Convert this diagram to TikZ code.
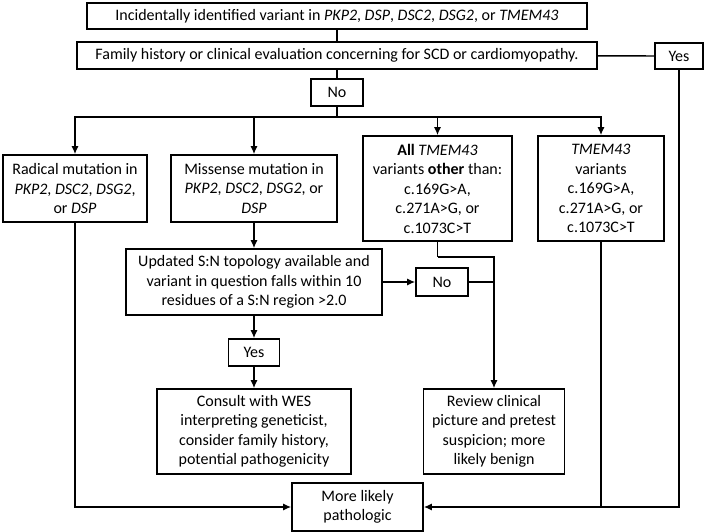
\documentclass[tikz,border=0pt]{standalone}
\usepackage{fontspec}
\setmainfont{Carlito}
\usetikzlibrary{arrows.meta}

\begin{document}
\begin{tikzpicture}[%
        x=1pt, y=-1pt,
        line width=1.4pt,
        box/.style={draw, line width=1.6pt, align=center, inner sep=0pt,
            font=\fontsize{16}{19.5}\selectfont},
        >={Latex[length=8pt,width=7pt]} % Pfeilspitzen
        ]
    \useasboundingbox (0,0) rectangle (709,532);

    % Kaesten
    \node[box, minimum width=500pt, minimum height=26pt] (inc) at (337,16)
        {Incidentally identified variant in \textit{PKP2}, \textit{DSP}, \textit{DSC2}, \textit{DSG2}, or \textit{TMEM43}};
    \node[box, minimum width=520pt, minimum height=27pt] (fam) at (337,55.5)
        {Family history or clinical evaluation concerning for SCD or cardiomyopathy.};
    \node[box, minimum width=48pt, minimum height=26pt] (yesA) at (679,56) {Yes};
    \node[box, minimum width=52pt, minimum height=27pt] (noA) at (337,92.5) {No};

    \node[box, minimum width=144pt, minimum height=67pt] (rad) at (75,188.5)
        {Radical mutation in\\ \textit{PKP2}, \textit{DSC2}, \textit{DSG2},\\ or \textit{DSP}};
    \node[box, minimum width=166pt, minimum height=67pt] (mis) at (254,188.5)
        {Missense mutation in\\ \textit{PKP2}, \textit{DSC2}, \textit{DSG2}, or\\ \textit{DSP}};
    \node[box, minimum width=149pt, minimum height=105pt] (all) at (437.5,188.5)
        {\textbf{All} \textit{TMEM43}\\ variants \textbf{other} than:\\ c.169G>A,\\ c.271A>G, or\\ c.1073C>T};
    \node[box, minimum width=126pt, minimum height=105pt] (tm) at (601,188.5)
        {\textit{TMEM43}\\ variants\\ c.169G>A,\\ c.271A>G, or\\ c.1073C>T};

    \node[box, minimum width=256pt, minimum height=66pt] (upd) at (254,282)
        {Updated S:N topology available and\\ variant in question falls within 10\\ residues of a S:N region >2.0};
    \node[box, minimum width=52pt, minimum height=28pt] (noB) at (442,282) {No};
    \node[box, minimum width=51pt, minimum height=27pt] (yesB) at (254,352.5) {Yes};

    \node[box, minimum width=194pt, minimum height=85pt] (con) at (254,431.5)
        {Consult with WES\\ interpreting geneticist,\\ consider family history,\\ potential pathogenicity};
    \node[box, minimum width=141pt, minimum height=85pt] (rev) at (494,431.5)
        {Review clinical\\ picture and pretest\\ suspicion; more\\ likely benign};
    \node[box, minimum width=131pt, minimum height=48pt] (more) at (357.5,507)
        {More likely\\ pathologic};

    % Verbindungen
    \coordinate (br) at (337,117);
    \draw (inc) -- (fam);
    \draw (fam) -- (yesA);
    \draw (fam) -- (noA);
    \draw (noA) -- (br);
    \draw[->] (br) -| (rad);
    \draw[->] (br) -| (mis);
    \draw[->] (br) -| (all);
    \draw[->] (br) -| (tm);

    \draw[->] (mis) -- (upd);
    \draw[->] (upd) -- (noB);
    \draw[->] (upd) -- (yesB);
    \draw[->] (yesB) -- (con);

    \coordinate (knick) at ([yshift=-15pt]all.south);
    \draw (all) -- (knick);
    \draw[->] (knick) -| (rev);
    \draw (noB) -- (noB -| rev);

    \draw[->] (rad) |- (more);
    \draw (tm) -- (tm |- more);
    \draw[->] (yesA) |- (more);

\end{tikzpicture}
\end{document}
